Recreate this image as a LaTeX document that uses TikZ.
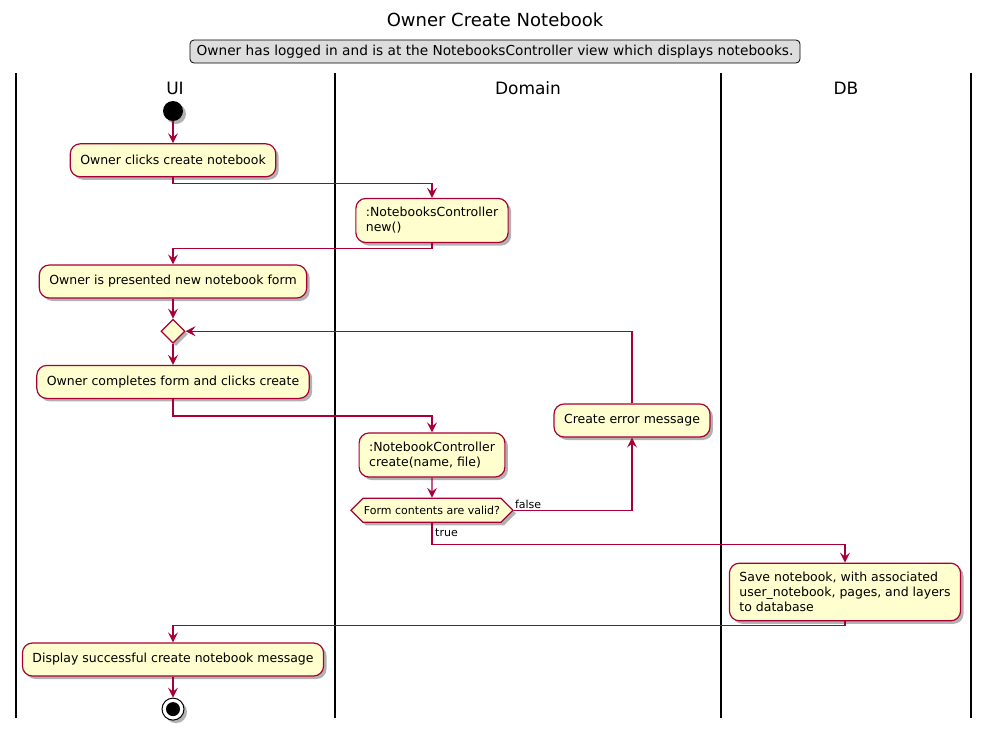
\documentclass[tikz,border=0pt]{standalone}
\usepackage{fontspec}
\setmainfont{DejaVu Sans}
\usetikzlibrary{positioning,shapes.geometric,shapes.symbols,shadows,arrows.meta}
\definecolor{umlred}{RGB}{168,0,54}
\definecolor{umlfill}{RGB}{254,254,206}
\definecolor{notegray}{RGB}{221,221,221}

\begin{document}
\begin{tikzpicture}[
    x=1pt, y=-1pt,
    umlshadow/.style={drop shadow={shadow xshift=3pt, shadow yshift=-3pt, opacity=0.3, fill=black}},
    act/.style={draw=umlred, line width=1.2pt, fill=umlfill, rounded corners=10pt, minimum height=33pt, inner xsep=10pt, inner ysep=9pt, align=left, font=\fontsize{12.5}{15}\selectfont, umlshadow},
    branch/.style={diamond, draw=umlred, line width=1.2pt, fill=umlfill, minimum width=24pt, minimum height=24pt, inner sep=0pt, umlshadow},
    guard/.style={signal, signal to=east and west, signal pointer angle=90, draw=umlred, line width=1.2pt, fill=umlfill, minimum height=24pt, inner xsep=1pt, inner ysep=5pt, font=\fontsize{11}{13}\selectfont, umlshadow},
    startdot/.style={circle, fill=black, minimum size=20pt, inner sep=0pt, umlshadow},
    enddot/.style={circle, draw=black, line width=1pt, fill=white, minimum size=22pt, inner sep=0pt, umlshadow, path picture={\fill[black] (path picture bounding box.center) circle (7pt);}},
    lanehead/.style={font=\fontsize{17}{20}\selectfont},
    lbl/.style={font=\fontsize{11}{13}\selectfont, inner sep=1pt},
    lane/.style={draw=black, line width=1.6pt},
    flow/.style={draw=umlred, line width=1.1pt, -{Stealth[length=10pt, width=10pt, inset=4pt]}}
]
\useasboundingbox (0,0) rectangle (990,734);

% Title and note
\node[font=\fontsize{18}{20}\selectfont] (title) at (495,20) {Owner Create Notebook};
\node[draw=black, line width=0.8pt, fill=notegray, rounded corners=4pt, minimum width=610pt, minimum height=23pt, inner sep=2pt, font=\fontsize{13.7}{15}\selectfont] (note) at (495,51.5) {Owner has logged in and is at the NotebooksController view which displays notebooks.};

% Swimlanes
\foreach \x in {16,335,721,971}
  \draw[lane] (\x,73) -- (\x,718);
\node[lanehead] (ui) at (175,88) {UI};
\node[lanehead] (domain) at (528,88) {Domain};
\node[lanehead] (db) at (846,88) {DB};

% UI lane
\node[startdot] (start) at (173,111) {};
\node[act, below=22pt of start] (clicks) {Owner clicks create notebook};
\node[act] (presented) at (173,281.5) {Owner is presented new notebook form};
\node[branch, below=20pt of presented] (loop) {};
\node[act, below=21pt of loop] (completes) {Owner completes form and clicks create};
\node[act] (display) at (173,659.5) {Display successful create notebook message};
\node[enddot, below=21pt of display] (stop) {};

% Domain lane
\node[act] (newctl) at (432,220.5) {:NotebooksController\\new()};
\node[act] (createctl) at (432,455) {:NotebookController\\create(name, file)};
\node[guard, below=20pt of createctl] (valid) {Form contents are valid?};
\node[act] (err) at (632,420.5) {Create error message};

% DB lane
\node[act] (save) at (845,592) {Save notebook, with associated\\user\_notebook, pages, and layers\\to database};

% Flow
\draw[flow] (start) -- (clicks);
\draw[flow] (clicks.south) -- ++(0,6) -| (newctl.north);
\draw[flow] (newctl.south) -- ++(0,5) -| (presented.north);
\draw[flow] (presented) -- (loop);
\draw[flow] (loop) -- (completes);
\draw[flow] (completes.south) -- ++(0,17) -| (createctl.north);
\draw[flow] (createctl) -- (valid);
\draw[flow] (valid.east) -| (err.south);
\node[lbl, anchor=south west] (falselbl) at (valid.east) {false};
\draw[flow] (err.north) |- (loop.east);
\draw[flow] (valid.south) -- ++(0,22) -| (save.north);
\node[lbl, anchor=north west] (truelbl) at ([xshift=2pt,yshift=-5pt]valid.south) {true};
\draw[flow] (save.south) -- ++(0,4) -| (display.north);
\draw[flow] (display) -- (stop);

\end{tikzpicture}
\end{document}
